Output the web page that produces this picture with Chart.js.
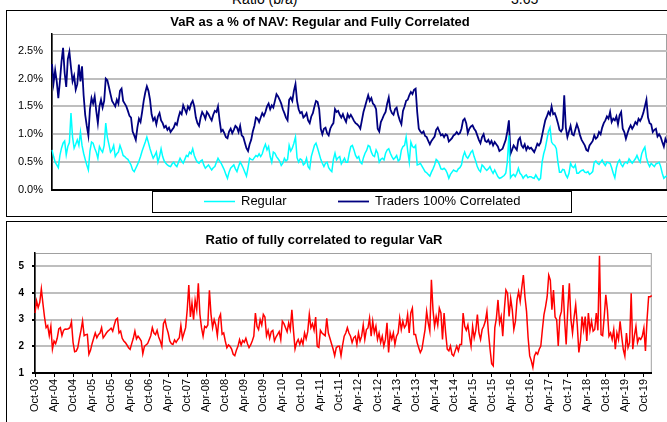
<!DOCTYPE html>
<html>
<head>
<meta charset="utf-8">
<script src="https://cdn.jsdelivr.net/npm/chart.js@4.4.1/dist/chart.umd.min.js"></script>
<style>
body { margin: 0; width: 667px; height: 422px; overflow: hidden; background: #fff; position: relative; font-family: Arial, "Liberation Sans", sans-serif; }
.panel { position: absolute; left: 6px; width: 700px; border: 1px solid #000; background: #fff; overflow: hidden; }
#panel1 { top: 10px; height: 205px; }
#panel2 { top: 221px; height: 250px; }
.panel canvas { position: absolute; left: 0; top: 0; }
.cut { position: absolute; top: -9px; font-size: 14px; color: #000; white-space: nowrap; }
</style>
</head>
<body>
<div class="cut" style="left:232px">Ratio (b/a)</div>
<div class="cut" style="left:511px">3.65</div>
<div class="panel" id="panel1"><canvas id="varChart" width="660" height="205"></canvas></div>
<div class="panel" id="panel2"><canvas id="ratioChart" width="660" height="200"></canvas></div>
<script>
'use strict';
var tickLabels = ['Oct-03', 'Apr-04', 'Oct-04', 'Apr-05', 'Oct-05', 'Apr-06', 'Oct-06', 'Apr-07', 'Oct-07', 'Apr-08', 'Oct-08',
	'Apr-09', 'Oct-09', 'Apr-10', 'Oct-10', 'Apr-11', 'Oct-11', 'Apr-12', 'Oct-12', 'Apr-13', 'Oct-13', 'Apr-14', 'Oct-14',
	'Apr-15', 'Oct-15', 'Apr-16', 'Oct-16', 'Apr-17', 'Oct-17', 'Apr-18', 'Oct-18', 'Apr-19', 'Oct-19'];
var pointsPerTick = 12;
var varTicks = [0, 0.5, 1, 1.5, 2, 2.5];
var ratioTicks = [1, 2, 3, 4, 5];

// VaR as % of NAV, regular
var regular = [
	0.72, 0.6, 0.5, 0.45, 0.4, 0.62, 0.75, 0.84, 0.88, 0.63, 0.78, 0.85,
	1.38, 0.95, 0.75, 0.82, 0.9, 0.8, 1.04, 0.8, 0.66, 0.55, 0.45, 0.36,
	0.7, 0.86, 0.84, 0.75, 0.68, 0.57, 0.78, 0.72, 0.68, 0.8, 1.2, 0.95,
	0.82, 0.68, 0.72, 0.8, 0.6, 0.65, 0.68, 0.8, 0.72, 0.62, 0.6, 0.57,
	0.55, 0.5, 0.45, 0.36, 0.33, 0.39, 0.45, 0.52, 0.6, 0.7, 0.78, 0.86,
	0.95, 0.85, 0.74, 0.65, 0.57, 0.62, 0.68, 0.5, 0.6, 0.74, 0.6, 0.52,
	0.48, 0.45, 0.43, 0.42, 0.47, 0.5, 0.45, 0.42, 0.5, 0.57, 0.52, 0.48,
	0.55, 0.62, 0.6, 0.68, 0.65, 0.74, 0.62, 0.55, 0.5, 0.48, 0.52, 0.54,
	0.45, 0.39, 0.42, 0.45, 0.4, 0.36, 0.4, 0.42, 0.5, 0.57, 0.52, 0.48,
	0.42, 0.36, 0.28, 0.21, 0.32, 0.39, 0.42, 0.45, 0.38, 0.33, 0.42, 0.5,
	0.45, 0.39, 0.32, 0.25, 0.4, 0.57, 0.55, 0.54, 0.58, 0.62, 0.6, 0.65,
	0.6, 0.65, 0.75, 0.82, 0.72, 0.78, 0.6, 0.5, 0.68, 0.66, 0.6, 0.56,
	0.52, 0.44, 0.48, 0.57, 0.52, 0.55, 0.8, 0.7, 0.75, 0.84, 0.95, 0.58,
	0.5, 0.56, 0.54, 0.45, 0.48, 0.57, 0.42, 0.38, 0.6, 0.7, 0.8, 0.84,
	0.75, 0.65, 0.55, 0.48, 0.42, 0.48, 0.5, 0.4, 0.36, 0.33, 0.55, 0.66,
	0.54, 0.58, 0.6, 0.47, 0.52, 0.57, 0.5, 0.5, 0.66, 0.78, 0.8, 0.72,
	0.62, 0.57, 0.6, 0.5, 0.47, 0.58, 0.66, 0.71, 0.8, 0.78, 0.68, 0.62,
	0.6, 0.72, 0.66, 0.5, 0.55, 0.57, 0.54, 0.66, 0.72, 0.74, 0.66, 0.6,
	0.55, 0.58, 0.62, 0.52, 0.55, 0.72, 0.78, 0.8, 0.95, 0.7, 0.5, 0.86,
	0.78, 0.76, 0.8, 0.45, 0.46, 0.48, 0.43, 0.38, 0.33, 0.31, 0.28, 0.25,
	0.32, 0.38, 0.45, 0.55, 0.52, 0.46, 0.38, 0.37, 0.39, 0.36, 0.3, 0.21,
	0.28, 0.32, 0.36, 0.34, 0.33, 0.38, 0.4, 0.45, 0.6, 0.68, 0.6, 0.57,
	0.62, 0.68, 0.71, 0.6, 0.52, 0.42, 0.36, 0.33, 0.45, 0.42, 0.38, 0.35,
	0.38, 0.42, 0.35, 0.3, 0.36, 0.3, 0.24, 0.21, 0.22, 0.24, 0.26, 0.3,
	0.5, 0.98, 0.22, 0.26, 0.28, 0.24, 0.3, 0.39, 0.3, 0.27, 0.21, 0.25,
	0.27, 0.22, 0.24, 0.24, 0.22, 0.21, 0.27, 0.22, 0.18, 0.21, 0.5, 0.65,
	0.75, 0.9, 1.05, 1.12, 0.86, 0.82, 0.8, 0.74, 0.5, 0.32, 0.32, 0.37,
	0.36, 0.27, 0.22, 0.3, 0.48, 0.42, 0.4, 0.45, 0.3, 0.3, 0.33, 0.35,
	0.36, 0.32, 0.31, 0.33, 0.28, 0.3, 0.33, 0.5, 0.52, 0.48, 0.46, 0.5,
	0.54, 0.48, 0.44, 0.5, 0.49, 0.48, 0.4, 0.3, 0.22, 0.4, 0.5, 0.54,
	0.46, 0.42, 0.48, 0.5, 0.48, 0.56, 0.52, 0.48, 0.52, 0.56, 0.62, 0.55,
	0.5, 0.65, 0.72, 0.77, 0.58, 0.48, 0.42, 0.48, 0.45, 0.42, 0.47, 0.48,
	0.5, 0.42, 0.3, 0.21, 0.24, 0.25
];

// VaR as % of NAV, traders 100% correlated
var correlated = [
	2.26, 1.92, 2.15, 1.95, 1.65, 1.95, 2.3, 2.55, 2.1, 1.85, 2.35, 2.48,
	2.2, 1.95, 2.05, 1.8, 1.9, 2.25, 1.95, 2.22, 1.7, 1.35, 1.15, 0.98,
	1.45, 1.65, 1.55, 1.68, 1.42, 1.2, 1.5, 1.62, 1.48, 1.6, 2.0, 1.97,
	1.85, 1.72, 1.6, 1.55, 1.5, 1.62, 1.55, 1.78, 1.82, 1.6, 1.55, 1.5,
	1.42, 1.33, 1.3, 1.05, 0.98, 0.9, 1.12, 1.28, 1.22, 1.4, 1.6, 1.75,
	1.86, 1.78, 1.62, 1.36, 1.25, 1.3, 1.18, 1.32, 1.38, 1.25, 1.2, 1.12,
	1.15, 1.08, 1.12, 1.04, 1.08, 1.12, 1.2, 1.17, 1.3, 1.4, 1.36, 1.52,
	1.45, 1.38, 1.5, 1.45, 1.55, 1.6, 1.5, 1.3, 1.2, 1.15, 1.3, 1.4,
	1.35, 1.28, 1.4, 1.36, 1.3, 1.25, 1.35, 1.42, 1.4, 1.5, 1.25, 1.05,
	1.08, 1.02, 0.95, 0.93, 1.05, 1.1, 1.02, 1.08, 1.15, 1.12, 1.04, 1.15,
	0.98, 0.95, 0.85, 0.75, 0.7, 0.82, 0.9, 1.05, 1.15, 1.3, 1.28, 1.22,
	1.3, 1.38, 1.33, 1.4, 1.5, 1.55, 1.45, 1.52, 1.48, 1.6, 1.72, 1.68,
	1.62, 1.55, 1.45, 1.38, 1.3, 1.25, 1.62, 1.66, 1.6, 1.78, 1.9, 1.6,
	1.45, 1.38, 1.4, 1.3, 1.33, 1.38, 1.25, 1.2, 1.32, 1.38, 1.5, 1.6,
	1.58, 1.45, 1.1, 1.0, 1.1, 1.12, 1.02, 0.98, 1.1, 1.16, 1.2, 1.45,
	1.4, 1.42, 1.35, 1.3, 1.36, 1.28, 1.22, 1.36, 1.3, 1.35, 1.3, 1.24,
	1.2, 1.18, 1.15, 1.1, 1.25, 1.4, 1.5, 1.6, 1.7, 1.6, 1.65, 1.55,
	1.52, 1.45, 1.1, 1.05, 1.22, 1.28, 1.35, 1.4, 1.55, 1.66, 1.45, 1.38,
	1.35, 1.45, 1.48, 1.34, 1.25, 1.18, 1.42, 1.5, 1.6, 1.62, 1.7, 1.76,
	1.72, 1.8, 1.82, 1.4, 1.1, 1.05, 1.02, 1.05, 0.97, 0.95, 0.88, 0.82,
	0.88, 0.92, 0.96, 1.08, 1.12, 1.05, 0.98, 1.0, 0.95, 1.0, 0.98, 0.87,
	0.9, 0.93, 0.98, 1.0, 1.04, 1.0, 1.02, 1.1, 1.25, 1.28, 1.2, 1.02,
	1.1, 1.14, 1.16, 1.1, 1.06, 0.98, 0.9, 0.84, 0.95, 1.0, 0.88, 0.86,
	0.9, 0.83, 0.88, 0.8, 0.86, 0.82, 0.78, 0.7, 0.72, 0.74, 0.82, 0.9,
	1.05, 1.25, 0.65, 0.72, 0.8, 0.76, 0.72, 0.9, 0.94, 0.8, 0.76, 0.82,
	0.72, 0.78, 0.74, 0.76, 0.72, 0.68, 0.75, 0.83, 0.8, 0.85, 0.98, 1.12,
	1.25, 1.32, 1.4, 1.35, 1.5, 1.36, 1.38, 1.3, 1.2, 1.08, 1.05, 1.1,
	1.7, 1.12, 0.95, 1.05, 1.15, 1.0, 0.98, 1.08, 1.18, 1.1, 0.98, 0.9,
	0.85, 0.8, 0.72, 0.7, 0.8, 0.84, 0.88, 0.98, 0.92, 0.95, 1.04, 1.0,
	1.12, 1.2, 1.25, 1.32, 1.28, 1.4, 1.22, 1.28, 1.25, 1.32, 1.18, 1.34,
	1.4, 1.1, 1.04, 0.92, 1.02, 1.1, 1.16, 1.1, 1.15, 1.22, 1.18, 1.28,
	1.24, 1.3, 1.38, 1.5, 1.62, 1.3, 1.2, 1.18, 1.04, 1.08, 1.1, 0.96,
	1.0, 0.95, 0.86, 0.78, 0.92, 0.85
];

// ratio of fully correlated to regular VaR
var ratio = [
	3.25, 3.7, 3.45, 3.65, 4.15, 3.6, 3.1, 2.7, 2.78, 2.4, 2.75, 1.9,
	2.2, 2.1, 2.3, 2.65, 2.7, 2.4, 2.6, 2.65, 2.64, 2.66, 2.7, 2.92,
	2.15, 1.8, 1.82, 1.95, 2.3, 2.6, 2.95, 2.4, 2.44, 2.45, 1.7, 1.85,
	2.1, 2.3, 2.5, 2.32, 2.44, 2.5, 2.7, 2.32, 2.4, 2.5, 2.57, 2.62,
	2.68, 2.57, 2.8, 3.0, 3.05, 2.5, 2.57, 2.3, 2.2, 2.14, 2.05, 1.95,
	1.89, 2.1, 2.3, 2.57, 2.28, 2.38, 2.3, 2.2, 1.72, 2.0, 2.05, 2.1,
	2.25, 2.4, 2.7, 2.5, 2.44, 2.6, 2.35, 2.2, 2.0, 2.85, 2.98, 2.7,
	2.5, 2.2, 2.1, 2.07, 2.24, 2.15, 2.25, 2.32, 2.78, 2.3, 2.5, 2.7,
	3.37, 4.3, 3.1, 3.62, 3.0, 3.74, 3.37, 4.36, 3.2, 2.7, 2.38, 2.75,
	2.7, 2.8, 4.1, 3.2, 2.7, 3.0, 2.8, 2.4, 3.05, 3.2, 2.45, 2.5,
	2.2, 1.95, 2.05, 2.0, 1.9, 1.7, 1.65, 1.85, 2.0, 2.25, 2.05, 2.22,
	2.15, 2.3, 2.1, 1.95, 2.05, 2.2, 2.38, 3.25, 2.75, 2.63, 3.0, 2.8,
	3.2, 3.1, 2.4, 2.6, 2.3, 2.55, 2.6, 2.2, 2.35, 2.45, 2.55, 2.25,
	2.94, 2.85, 2.7, 2.55, 2.88, 2.63, 3.37, 2.6, 1.9, 2.14, 2.26, 2.07,
	2.26, 2.08, 2.5, 2.28, 2.55, 3.2, 2.7, 2.85, 2.6, 3.1, 2.0, 1.96,
	2.6, 2.5, 2.45, 2.4, 3.05, 2.5, 2.3, 2.1, 1.9, 1.65, 1.95, 2.0,
	2.0, 1.65, 2.05, 2.38, 2.5, 2.7, 2.5, 2.38, 2.14, 2.32, 2.38, 2.07,
	2.5, 2.2, 2.38, 2.8, 2.26, 2.63, 2.69, 3.06, 2.38, 2.94, 2.5, 2.75,
	2.26, 2.5, 2.14, 2.38, 2.01, 2.26, 2.88, 1.77, 2.5, 2.26, 2.5, 2.07,
	2.38, 2.5, 3.06, 2.63, 2.94, 2.7, 2.8, 3.19, 2.5, 3.25, 3.43, 2.44,
	2.44, 2.14, 1.95, 1.77, 1.89, 2.26, 2.63, 3.31, 2.88, 2.57, 4.5, 3.37,
	2.75, 3.12, 2.8, 3.43, 3.25, 2.26, 3.25, 2.5, 1.89, 1.83, 2.01, 1.7,
	1.64, 1.83, 2.01, 1.83, 2.07, 2.07, 3.25, 2.75, 2.6, 2.8, 2.38, 2.01,
	2.75, 2.32, 2.6, 3.19, 2.5, 2.26, 2.63, 2.75, 2.94, 3.31, 2.5, 1.89,
	1.35, 1.27, 2.7, 3.06, 3.74, 2.88, 3.12, 2.38, 3.37, 4.11, 3.99, 3.12,
	3.8, 3.37, 2.63, 2.94, 3.74, 4.05, 3.68, 4.2, 4.67, 3.86, 3.31, 2.32,
	1.64, 1.46, 1.21, 1.64, 1.77, 1.7, 1.89, 2.01, 2.63, 3.19, 3.49, 3.86,
	4.67, 4.48, 3.37, 4.11, 3.1, 3.0, 2.01, 3.1, 3.31, 4.3, 3.0, 2.07,
	3.37, 4.36, 3.0, 2.5, 3.1, 3.56, 2.8, 1.77, 2.2, 3.12, 2.63, 3.12,
	2.2, 3.25, 2.6, 2.94, 2.57, 2.63, 3.25, 2.6, 5.4, 2.44, 2.4, 3.12,
	3.93, 3.37, 2.38, 2.5, 2.26, 2.63, 1.89, 2.5, 2.26, 2.94, 2.38, 1.89,
	1.64, 2.5, 1.95, 2.14, 3.99, 1.89, 2.38, 2.75, 2.14, 2.32, 2.26, 2.38,
	2.69, 1.83, 3.0, 3.86, 3.86, 3.9
];

var labels = ratio.map(function (v, i) {
	return i % pointsPerTick === 0 ? tickLabels[i / pointsPerTick] : '';
});

Chart.defaults.font.family = 'Arial, "Liberation Sans", sans-serif';
Chart.defaults.color = '#000';

var panelTitle = {
	id: 'panelTitle',
	afterDraw: function (chart, args, opts) {
		var ctx = chart.ctx;
		ctx.save();
		ctx.font = 'bold 13px Arial, "Liberation Sans", sans-serif';
		ctx.fillStyle = '#000';
		ctx.textAlign = 'center';
		ctx.textBaseline = 'middle';
		ctx.fillText(opts.text, opts.x, opts.y);
		ctx.restore();
	}
};

var plotFrame = {
	id: 'plotFrame',
	beforeDraw: function (chart) {
		var a = chart.chartArea;
		var ctx = chart.ctx;
		ctx.save();
		ctx.strokeStyle = '#a0a0a0';
		ctx.lineWidth = 1;
		ctx.strokeRect(a.left + 0.5, a.top + 0.5, a.right - a.left - 1, a.bottom - a.top);
		ctx.restore();
	}
};

var boxLegend = {
	id: 'boxLegend',
	afterDraw: function (chart, args, opts) {
		var ctx = chart.ctx;
		var y = opts.top + opts.height / 2;
		ctx.save();
		ctx.fillStyle = '#fff';
		ctx.fillRect(opts.left, opts.top, opts.width, opts.height);
		ctx.strokeStyle = '#000';
		ctx.lineWidth = 1;
		ctx.strokeRect(opts.left + 0.5, opts.top + 0.5, opts.width, opts.height);
		ctx.font = '13px Arial, "Liberation Sans", sans-serif';
		ctx.textBaseline = 'middle';
		chart.data.datasets.forEach(function (ds, k) {
			var x = opts.itemX[k];
			ctx.strokeStyle = ds.borderColor;
			ctx.lineWidth = ds.borderWidth;
			ctx.beginPath();
			ctx.moveTo(x, y);
			ctx.lineTo(x + 31, y);
			ctx.stroke();
			ctx.fillStyle = '#000';
			ctx.fillText(ds.label, x + 37, y);
		});
		ctx.restore();
	}
};

new Chart(document.getElementById('varChart'), {
	type: 'line',
	data: {
		labels: labels,
		datasets: [{
			label: 'Regular',
			data: regular,
			borderColor: '#00ffff',
			borderWidth: 1.5
		}, {
			label: 'Traders 100% Correlated',
			data: correlated,
			borderColor: '#000080',
			borderWidth: 1.8
		}]
	},
	options: {
		responsive: false,
		animation: false,
		layout: { padding: { top: 23, left: 0, right: 0, bottom: 0 } },
		elements: { point: { radius: 0 }, line: { tension: 0 } },
		plugins: {
			legend: { display: false },
			tooltip: { enabled: false },
			panelTitle: { text: 'VaR as a % of NAV: Regular and Fully Correlated', x: 313, y: 11 },
			boxLegend: { left: 145, top: 180, width: 419, height: 21, itemX: [197, 331] }
		},
		scales: {
			x: {
				ticks: { display: false },
				grid: { display: false },
				border: { color: '#000', width: 2 },
				afterFit: function (scale) { scale.height = 26; }
			},
			y: {
				min: 0,
				max: 2.8,
				afterBuildTicks: function (scale) {
					scale.ticks = varTicks.map(function (v) { return { value: v }; });
				},
				ticks: {
					padding: 9,
					font: { size: 11 },
					color: '#000',
					callback: function (v) { return v.toFixed(1) + '%'; }
				},
				grid: { color: '#bebebe', lineWidth: 2, drawTicks: false },
				border: { color: '#000', width: 1.5 },
				afterFit: function (scale) { scale.width = 45; }
			}
		}
	},
	plugins: [plotFrame, panelTitle, boxLegend]
});

new Chart(document.getElementById('ratioChart'), {
	type: 'line',
	data: {
		labels: labels,
		datasets: [{
			label: 'Ratio',
			data: ratio,
			borderColor: '#ff0000',
			borderWidth: 1.5
		}]
	},
	options: {
		responsive: false,
		animation: false,
		layout: { padding: { top: 31, left: 0, right: 0, bottom: 0 } },
		elements: { point: { radius: 0 }, line: { tension: 0 } },
		plugins: {
			legend: { display: false },
			tooltip: { enabled: false },
			panelTitle: { text: 'Ratio of fully correlated to regular VaR', x: 317, y: 18 }
		},
		scales: {
			x: {
				ticks: { autoSkip: false, maxRotation: 90, minRotation: 90, padding: 2, font: { size: 11 }, color: '#000' },
				grid: {
					drawOnChartArea: false,
					tickLength: 4,
					color: function (c) { return c.tick && c.tick.label ? '#000' : 'rgba(0,0,0,0)'; }
				},
				border: { color: '#000', width: 2 },
				afterFit: function (scale) { scale.height = 49; }
			},
			y: {
				min: 1,
				max: 5.5,
				afterBuildTicks: function (scale) {
					scale.ticks = ratioTicks.map(function (v) { return { value: v }; });
				},
				ticks: { padding: 8, font: { size: 10, weight: 'bold' }, color: '#000' },
				grid: { color: '#bebebe', lineWidth: 2, tickLength: 3, tickColor: '#000' },
				border: { color: '#000', width: 1.5 },
				afterFit: function (scale) { scale.width = 28; }
			}
		}
	},
	plugins: [plotFrame, panelTitle]
});
</script>
</body>
</html>
